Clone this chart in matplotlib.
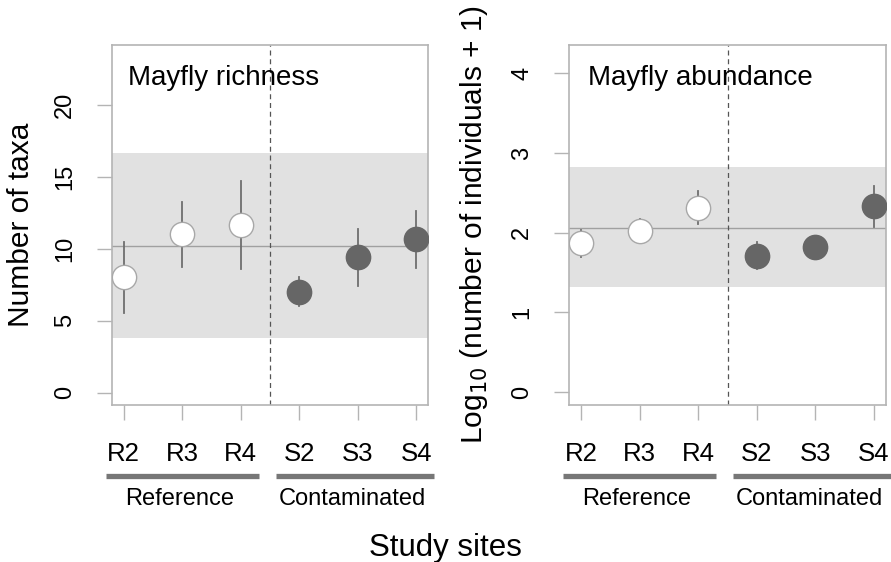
import matplotlib.pyplot as plt
import numpy as np

plt.rcParams['font.family'] = ['Liberation Sans', 'DejaVu Sans']

# ------------------------------------------------------------------
# data
sites = ["R2", "R3", "R4", "S2", "S3", "S4"]
is_ref = [True, True, True, False, False, False]

rich_mean = [8.08, 11.05, 11.68, 7.03, 9.47, 10.68]
rich_low = [5.57, 8.77, 8.59, 6.04, 7.45, 8.66]
rich_high = [10.47, 13.3, 14.74, 8.04, 11.4, 12.67]
rich_band = [3.79, 16.67]
rich_ref_line = 10.24

abun_mean = [1.87, 2.02, 2.31, 1.71, 1.82, 2.33]
abun_low = [1.69, 1.88, 2.11, 1.55, 1.76, 2.07]
abun_high = [2.04, 2.17, 2.52, 1.88, 1.88, 2.59]
abun_band = [1.32, 2.82]
abun_ref_line = 2.06

group_names = ["Reference", "Contaminated"]
group_spans = [(0.69, 3.31), (3.6, 6.3)]
# ------------------------------------------------------------------

fig = plt.figure(figsize=(8.91, 5.62), dpi=100)
ax1 = fig.add_axes([0.1257, 0.2794, 0.3547, 0.6406])
ax2 = fig.add_axes([0.639, 0.2794, 0.3551, 0.6406])

spine_col = "#b4b4b4"


def panel(ax, mean, low, high, band, ref_line, title, ylabel, ylim, yticks, lab_x, ylab_x):
    x = np.arange(1, len(sites) + 1)
    ax.axhspan(band[0], band[1], color="#e1e1e1", lw=0, zorder=0)
    ax.axhline(ref_line, color="#a0a0a0", lw=1.0, zorder=1)
    ax.axvline(3.5, color="#555555", lw=0.9, ls=(0, (4, 3)), zorder=1)

    for i in range(len(x)):
        ax.plot([x[i], x[i]], [low[i], high[i]], color="#6e6e6e", lw=1.3, zorder=2)
        if is_ref[i]:
            ax.plot(x[i], mean[i], "o", ms=17.5, mfc="white", mec="#a8a8a8", mew=1.0, zorder=3)
        else:
            ax.plot(x[i], mean[i], "o", ms=17.5, mfc="#666666", mec="#666666", mew=1.0, zorder=3)

    ax.set_xlim(0.8, 6.2)
    ax.set_ylim(*ylim)
    ax.set_yticks(yticks)
    ax.set_yticklabels([str(t) for t in yticks], rotation=90, va="center", fontsize=17)
    ax.set_xticks(x)
    ax.set_xticklabels(sites, fontsize=18.5)
    ax.tick_params(axis="y", length=11, width=1, color=spine_col, pad=15)
    ax.tick_params(axis="x", length=11, width=1, color=spine_col, pad=16)
    for s in ax.spines.values():
        s.set_color(spine_col)
        s.set_linewidth(1.2)

    ax.text(lab_x, 0.908, title, transform=ax.transAxes, fontsize=20, va="center", ha="left")
    ax.set_ylabel(ylabel, fontsize=21.5)
    ax.yaxis.set_label_coords(ylab_x, 0.5)

    tr = ax.get_xaxis_transform()
    for name, (a, b) in zip(group_names, group_spans):
        ax.plot([a, b], [-0.197, -0.197], transform=tr, color="#777777", lw=3.8,
                solid_capstyle="butt", clip_on=False)
        ax.text((a + b) / 2 - 0.05, -0.262, name, transform=tr, ha="center", va="center",
                fontsize=17)


panel(ax1, rich_mean, rich_low, rich_high, rich_band, rich_ref_line,
      "Mayfly richness", "Number of taxa", (-0.86, 24.2), [0, 5, 10, 15, 20], 0.05, -0.245)
panel(ax2, abun_mean, abun_low, abun_high, abun_band, abun_ref_line,
      "Mayfly abundance", r"Log$_{10}$ (number of individuals + 1)", (-0.16, 4.355),
      [0, 1, 2, 3, 4], 0.06, -0.25)

fig.text(0.4994, 0.025, "Study sites", ha="center", va="center", fontsize=22.5)

fig.savefig("out.png", dpi=100)
